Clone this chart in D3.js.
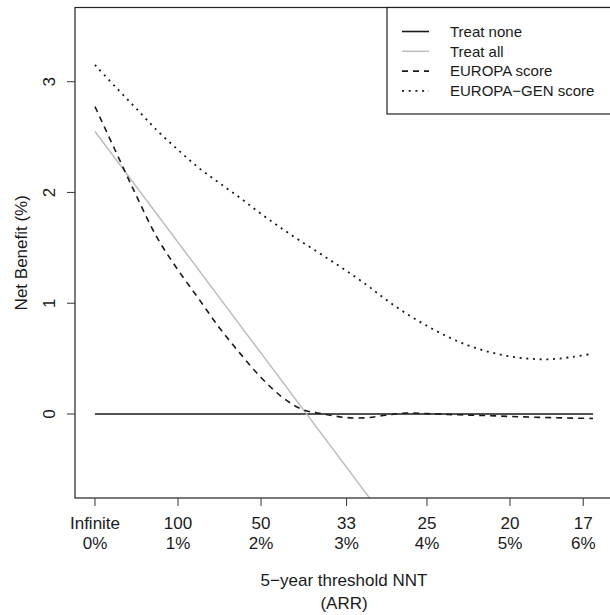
<!DOCTYPE html>
<html lang="en">
<head>
    <meta charset="UTF-8">
    <title>Net benefit by 5-year threshold NNT</title>
    <script src="https://d3js.org/d3.v7.min.js"></script>
    <style>
        body {
            margin: 0;
            background-color: #ffffff;
            font-family: "Liberation Sans", Arial, sans-serif;
        }
        .tick-label {
            fill: #1a1a1a;
            font-size: 17px;
        }
        .axis-title {
            fill: #1a1a1a;
            font-size: 17px;
        }
        .legend-text {
            fill: #1a1a1a;
            font-size: 15px;
        }
    </style>
</head>
<body>

<svg id="chart" width="610" height="615"></svg>

<script>
    // threshold ARR in %, one value per column
    const thresholds = [0, 0.25, 0.5, 0.75, 1, 1.25, 1.5, 1.75, 2, 2.25, 2.5, 2.75, 3,
                        3.25, 3.5, 3.75, 4, 4.25, 4.5, 4.75, 5, 5.25, 5.5, 5.75, 6];
    const europaScore = [2.775, 2.37, 1.968, 1.59, 1.30, 1.04, 0.777, 0.545, 0.33, 0.156, 0.04, 0.0, -0.03,
                         -0.035, -0.012, 0.009, 0.004, -0.004, -0.01, -0.015, -0.022, -0.028, -0.033, -0.037, -0.04];
    const europaGenScore = [3.151, 2.95, 2.755, 2.558, 2.385, 2.222, 2.085, 1.95, 1.807, 1.675, 1.55, 1.43, 1.307,
                            1.178, 1.036, 0.907, 0.796, 0.697, 0.618, 0.56, 0.52, 0.498, 0.495, 0.515, 0.545];
    const treatNoneX = [0, 6];
    const treatNoneY = [0, 0];
    const treatAllX = [0, 6];
    const treatAllY = [2.55, -3.45];

    const xTickValues = [0, 1, 2, 100 / 33, 4, 5, 100 / 17];
    const xTickNNT = ["Infinite", "100", "50", "33", "25", "20", "17"];
    const xTickARR = ["0%", "1%", "2%", "3%", "4%", "5%", "6%"];
    const yTickValues = [0, 1, 2, 3];

    const legendNames = ["Treat none", "Treat all", "EUROPA score", "EUROPA\u2212GEN score"];

    const svg = d3.select("#chart");

    const x = d3.scaleLinear().domain([0, 6]).range([95, 593]);
    const y = d3.scaleLinear().domain([0, 3]).range([414, 81.7]);

    // plot box
    const box = { left: 75, right: 613, top: 7.5, bottom: 498 };

    svg.append("clipPath").attr("id", "plot-clip")
        .append("rect")
        .attr("x", box.left).attr("y", box.top)
        .attr("width", box.right - box.left).attr("height", box.bottom - box.top);

    const line = d3.line()
        .x(d => x(d[0]))
        .y(d => y(d[1]))
        .curve(d3.curveCatmullRom);

    const plot = svg.append("g").attr("clip-path", "url(#plot-clip)");

    const series = [
        { pts: d3.zip(treatNoneX, treatNoneY), stroke: "#1a1a1a", dash: null, width: 1.6 },
        { pts: d3.zip(treatAllX, treatAllY), stroke: "#bdbdbd", dash: null, width: 1.5 },
        { pts: d3.zip(thresholds, europaScore), stroke: "#1a1a1a", dash: "6,5", width: 1.6 },
        { pts: d3.zip(thresholds, europaGenScore), stroke: "#1a1a1a", dash: "2,4.7", width: 1.8 }
    ];

    series.forEach(s => {
        plot.append("path")
            .attr("d", line(s.pts))
            .attr("fill", "none")
            .attr("stroke", s.stroke)
            .attr("stroke-width", s.width)
            .attr("stroke-dasharray", s.dash);
    });

    svg.append("rect")
        .attr("x", box.left).attr("y", box.top)
        .attr("width", box.right - box.left).attr("height", box.bottom - box.top)
        .attr("fill", "none")
        .attr("stroke", "#222")
        .attr("stroke-width", 1.2);

    // x axis ticks and labels
    const xAxis = svg.append("g");
    xTickValues.forEach((v, i) => {
        xAxis.append("line")
            .attr("x1", x(v)).attr("x2", x(v))
            .attr("y1", box.bottom).attr("y2", box.bottom + 8)
            .attr("stroke", "#444").attr("stroke-width", 1.1);
        xAxis.append("text").attr("class", "tick-label")
            .attr("x", x(v)).attr("y", 528.5)
            .attr("text-anchor", "middle")
            .text(xTickNNT[i]);
        xAxis.append("text").attr("class", "tick-label")
            .attr("x", x(v)).attr("y", 548.5)
            .attr("text-anchor", "middle")
            .text(xTickARR[i]);
    });

    // y axis ticks and labels
    const yAxis = svg.append("g");
    yTickValues.forEach(v => {
        yAxis.append("line")
            .attr("x1", box.left - 8).attr("x2", box.left)
            .attr("y1", y(v)).attr("y2", y(v))
            .attr("stroke", "#444").attr("stroke-width", 1.1);
        yAxis.append("text").attr("class", "tick-label")
            .attr("transform", `translate(55,${y(v)}) rotate(-90)`)
            .attr("text-anchor", "middle")
            .text(v);
    });

    // axis titles
    svg.append("text").attr("class", "axis-title")
        .attr("x", (box.left + box.right) / 2).attr("y", 586)
        .attr("text-anchor", "middle")
        .text("5\u2212year threshold NNT");
    svg.append("text").attr("class", "axis-title")
        .attr("x", (box.left + box.right) / 2).attr("y", 609)
        .attr("text-anchor", "middle")
        .text("(ARR)");
    svg.append("text").attr("class", "axis-title")
        .attr("transform", `translate(27,${(box.top + box.bottom) / 2}) rotate(-90)`)
        .attr("text-anchor", "middle")
        .text("Net Benefit (%)");

    // legend
    const legend = svg.append("g");
    legend.append("rect")
        .attr("x", 387).attr("y", box.top)
        .attr("width", 240).attr("height", 114 - box.top)
        .attr("fill", "#fff")
        .attr("stroke", "#222").attr("stroke-width", 1.2);
    legendNames.forEach((name, i) => {
        const ly = 31.5 + i * 19.8;
        const s = series[i];
        legend.append("line")
            .attr("x1", 402).attr("x2", 429)
            .attr("y1", ly).attr("y2", ly)
            .attr("stroke", s.stroke)
            .attr("stroke-width", s.width)
            .attr("stroke-dasharray", s.dash);
        legend.append("text").attr("class", "legend-text")
            .attr("x", 450).attr("y", ly + 5.3)
            .text(name);
    });
</script>

</body>
</html>
